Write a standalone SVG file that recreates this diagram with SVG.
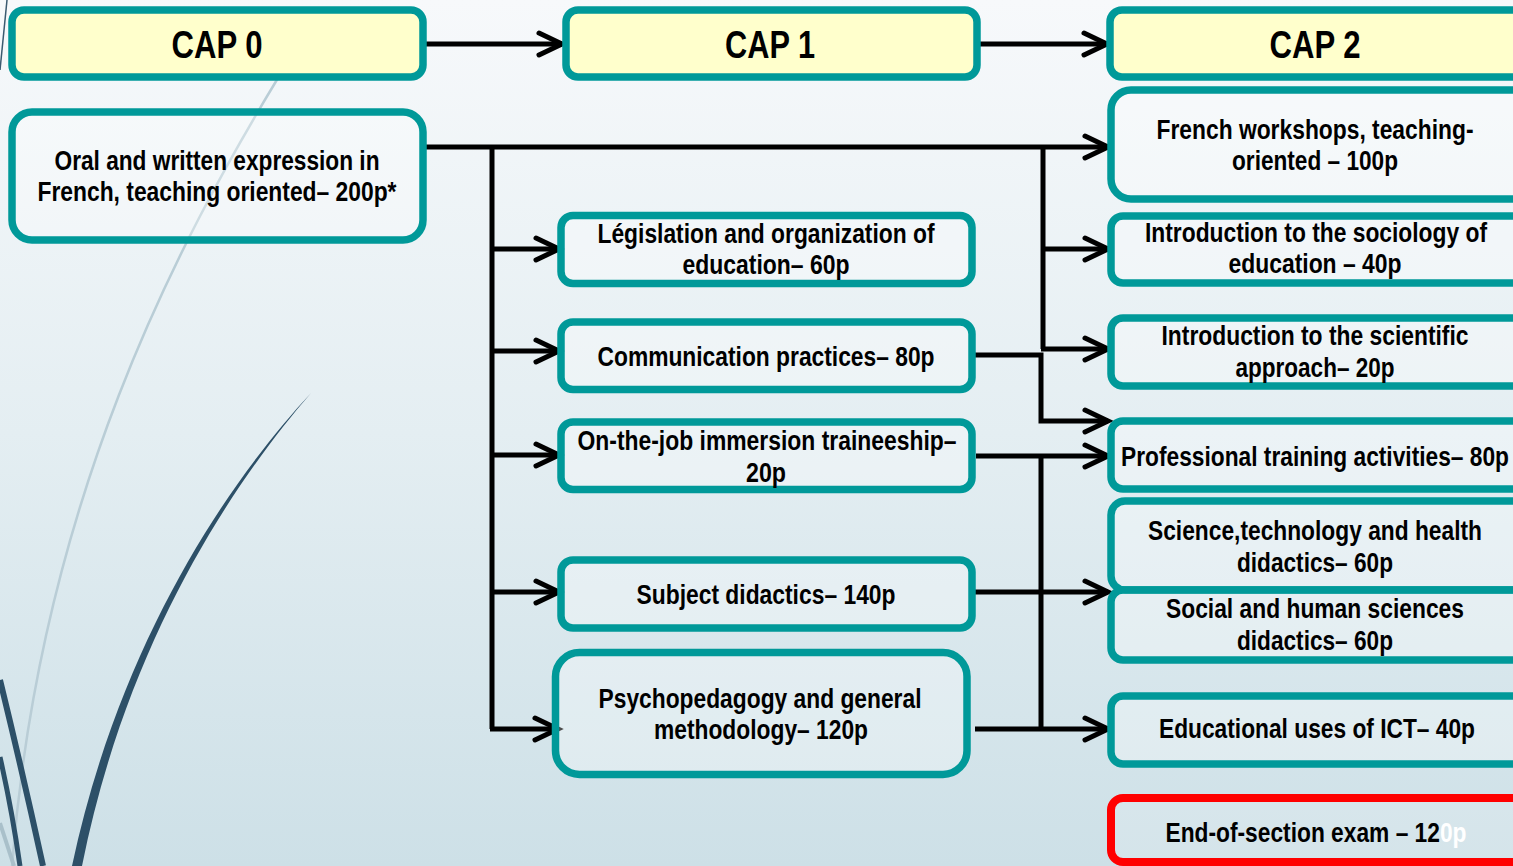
<svg xmlns="http://www.w3.org/2000/svg" width="1513" height="866" viewBox="0 0 1513 866">
<defs>
<linearGradient id="bg" x1="0" y1="0" x2="0" y2="1">
<stop offset="0" stop-color="#f7f9fb"/>
<stop offset="0.5" stop-color="#e4eef2"/>
<stop offset="1" stop-color="#cde0e7"/>
</linearGradient>
<marker id="arr" markerUnits="userSpaceOnUse" markerWidth="40" markerHeight="40" refX="30" refY="20" orient="auto" viewBox="0 0 40 40">
<path d="M 7 9 L 30 20 L 7 31" fill="none" stroke="#000" stroke-width="5" stroke-linecap="round"/>
</marker>
<style>
.cap{fill:#ffffcc;stroke:#009999;stroke-width:7.5}
.box{fill:#ffffff;fill-opacity:0.3;stroke:#009999;stroke-width:7.5}
.red{fill:#ffffff;fill-opacity:0.15;stroke:#ff0000;stroke-width:8}
.t{font-family:"Liberation Sans Narrow","Arial Narrow","Liberation Sans",Arial,sans-serif;font-weight:bold;font-size:27px;fill:#000;text-anchor:middle}
.h{font-size:38px}
.c{fill:none;stroke:#000;stroke-width:5}
</style>
</defs>
<rect x="0" y="0" width="1513" height="866" fill="url(#bg)"/>
<g id="decor">
<path d="M 7 0 L 0 70" fill="none" stroke="#3a5a70" stroke-width="1.5"/>
<path d="M 278 78 C 180 240, 40 500, 12 866" fill="none" stroke="#b9cdd6" stroke-width="2.5"/>
<path d="M 311 393 C 230 480, 120 640, 72 866 L 82 866 C 127 640, 234 482, 311 393 Z" fill="#2d5068"/>
<path d="M 0 680 Q 22 770 43 866" fill="none" stroke="#2d5068" stroke-width="6"/>
<path d="M 0 757 Q 12 810 20 866" fill="none" stroke="#2d5068" stroke-width="5"/>
<path d="M 0 823 L 14 866" fill="none" stroke="#a9c0ca" stroke-width="4"/>
</g>
<g id="connectors">
<path class="c" d="M 426 44 H 562" marker-end="url(#arr)"/>
<path class="c" d="M 979 44 H 1107" marker-end="url(#arr)"/>
<path class="c" d="M 426 147 H 1108" marker-end="url(#arr)"/>
<path class="c" d="M 492 147 V 729"/>
<path class="c" d="M 490 249 H 559" marker-end="url(#arr)"/>
<path class="c" d="M 490 351 H 559" marker-end="url(#arr)"/>
<path class="c" d="M 490 455 H 559" marker-end="url(#arr)"/>
<path class="c" d="M 490 592 H 559" marker-end="url(#arr)"/>
<path class="c" d="M 490 729 H 558" marker-end="url(#arr)"/>
<path class="c" d="M 1043 147 V 349"/>
<path class="c" d="M 1041 249 H 1108" marker-end="url(#arr)"/>
<path class="c" d="M 1041 349 H 1108" marker-end="url(#arr)"/>
<path class="c" d="M 973 355 H 1041 V 421 H 1108" marker-end="url(#arr)"/>
<path class="c" d="M 976 456 H 1108" marker-end="url(#arr)"/>
<path class="c" d="M 1041 456 V 729"/>
<path class="c" d="M 972 592 H 1108" marker-end="url(#arr)"/>
<path class="c" d="M 975 729 H 1108" marker-end="url(#arr)"/>
</g>
<g id="cap0"><rect class="cap" x="12" y="10" width="411" height="67" rx="12"/><text class="t h" x="217" y="58" textLength="91" lengthAdjust="spacingAndGlyphs">CAP 0</text></g>
<g id="cap1"><rect class="cap" x="566" y="10" width="411" height="67" rx="12"/><text class="t h" x="770" y="58" textLength="90" lengthAdjust="spacingAndGlyphs">CAP 1</text></g>
<g id="cap2"><rect class="cap" x="1110" y="10" width="420" height="67" rx="12"/><text class="t h" x="1315" y="58" textLength="91" lengthAdjust="spacingAndGlyphs">CAP 2</text></g>
<g id="oral"><rect class="box" x="12" y="112" width="411" height="128" rx="20"/>
<text class="t" x="217" y="170" textLength="325" lengthAdjust="spacingAndGlyphs">Oral and written expression in</text>
<text class="t" x="217" y="201" textLength="359" lengthAdjust="spacingAndGlyphs">French, teaching oriented– 200p*</text></g>
<g id="legislation"><rect class="box" x="561" y="215.5" width="411" height="68" rx="12"/>
<text class="t" x="766" y="243" textLength="337" lengthAdjust="spacingAndGlyphs">Législation and organization of</text>
<text class="t" x="766" y="274" textLength="167" lengthAdjust="spacingAndGlyphs">education– 60p</text></g>
<g id="communication"><rect class="box" x="561" y="322" width="411" height="67.5" rx="12"/>
<text class="t" x="766" y="366" textLength="337" lengthAdjust="spacingAndGlyphs">Communication practices– 80p</text></g>
<g id="onthejob"><rect class="box" x="561" y="422" width="411" height="67.5" rx="12"/>
<text class="t" x="767" y="450" textLength="379" lengthAdjust="spacingAndGlyphs">On-the-job immersion traineeship–</text>
<text class="t" x="766" y="482" textLength="40" lengthAdjust="spacingAndGlyphs">20p</text></g>
<g id="subject"><rect class="box" x="561" y="560" width="411" height="68" rx="12"/>
<text class="t" x="766" y="604" textLength="259" lengthAdjust="spacingAndGlyphs">Subject didactics– 140p</text></g>
<g id="psycho"><rect class="box" x="555.5" y="652.5" width="411.5" height="122" rx="24"/>
<text class="t" x="760" y="708" textLength="323" lengthAdjust="spacingAndGlyphs">Psychopedagogy and general</text>
<text class="t" x="761" y="739" textLength="214" lengthAdjust="spacingAndGlyphs">methodology– 120p</text></g>
<g id="french"><rect class="box" x="1111" y="90" width="420" height="109" rx="20"/>
<text class="t" x="1315" y="139" textLength="317" lengthAdjust="spacingAndGlyphs">French workshops, teaching-</text>
<text class="t" x="1315" y="170" textLength="166" lengthAdjust="spacingAndGlyphs">oriented – 100p</text></g>
<g id="sociology"><rect class="box" x="1111" y="216" width="420" height="67" rx="12"/>
<text class="t" x="1316" y="242" textLength="342" lengthAdjust="spacingAndGlyphs">Introduction to the sociology of</text>
<text class="t" x="1315" y="273" textLength="173" lengthAdjust="spacingAndGlyphs">education – 40p</text></g>
<g id="scientific"><rect class="box" x="1111" y="318" width="420" height="68" rx="12"/>
<text class="t" x="1315" y="345" textLength="307" lengthAdjust="spacingAndGlyphs">Introduction to the scientific</text>
<text class="t" x="1315" y="377" textLength="159" lengthAdjust="spacingAndGlyphs">approach– 20p</text></g>
<g id="professional"><rect class="box" x="1111" y="421" width="420" height="68" rx="12"/>
<text class="t" x="1315" y="466" textLength="388" lengthAdjust="spacingAndGlyphs">Professional training activities– 80p</text></g>
<g id="science"><rect class="box" x="1111" y="501" width="420" height="89" rx="14"/>
<text class="t" x="1315" y="540" textLength="334" lengthAdjust="spacingAndGlyphs">Science,technology and health</text>
<text class="t" x="1315" y="572" textLength="156" lengthAdjust="spacingAndGlyphs">didactics– 60p</text></g>
<g id="social"><rect class="box" x="1111" y="590" width="420" height="70" rx="12"/>
<text class="t" x="1315" y="618" textLength="298" lengthAdjust="spacingAndGlyphs">Social and human sciences</text>
<text class="t" x="1315" y="650" textLength="156" lengthAdjust="spacingAndGlyphs">didactics– 60p</text></g>
<g id="ict"><rect class="box" x="1111" y="696" width="420" height="68" rx="12"/>
<text class="t" x="1317" y="738" textLength="316" lengthAdjust="spacingAndGlyphs">Educational uses of ICT– 40p</text></g>
<g id="exam"><rect class="red" x="1111" y="798" width="420" height="64" rx="12"/>
<text class="t" x="1316" y="842" textLength="301" lengthAdjust="spacingAndGlyphs">End-of-section exam – 12<tspan fill="#ffffff">0p</tspan></text></g>
</svg>
